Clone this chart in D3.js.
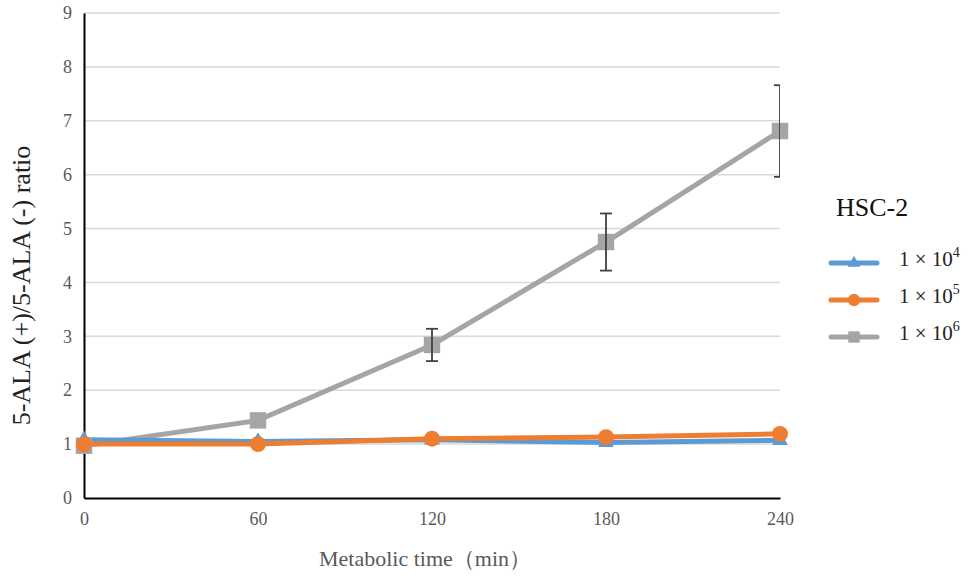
<!DOCTYPE html>
<html>
<head>
<meta charset="utf-8">
<script src="https://cdn.jsdelivr.net/npm/d3@7"></script>
<style>
  body { margin: 0; background: #fff; }
  svg text { font-family: "Liberation Serif", "Times New Roman", Times, "DejaVu Serif", serif !important; }
</style>
</head>
<body>
<div id="chart"></div>
<script>
const times = [0, 60, 120, 180, 240]
const yTicks = [0, 1, 2, 3, 4, 5, 6, 7, 8, 9]

const cells1e4 = [1.08, 1.05, 1.08, 1.03, 1.07]
const cells1e5 = [1.00, 1.00, 1.10, 1.13, 1.19]
const cells1e6 = [0.97, 1.44, 2.84, 4.75, 6.81]
const err1e6 = [0, 0, 0.30, 0.53, 0.85]

const seriesNames = ["4", "5", "6"]

const width = 971, height = 580
const margin = { top: 13, right: 191, bottom: 82, left: 84 }
const serif = "'Liberation Serif', 'Times New Roman', Times, 'DejaVu Serif', serif"

const svg = d3.select("#chart")
    .append("svg")
    .attr("width", width)
    .attr("height", height)
    .attr("font-family", serif)

const x = d3.scaleLinear()
    .domain([0, 240])
    .range([margin.left, width - margin.right])

const y = d3.scaleLinear()
    .domain([0, 9])
    .range([height - margin.bottom, margin.top])

svg.append("clipPath")
    .attr("id", "plotClip")
    .append("rect")
    .attr("x", margin.left - 20)
    .attr("y", 0)
    .attr("width", x(240) - margin.left + 20)
    .attr("height", height)

// grid lines
svg.append("g")
    .selectAll("line")
    .data(yTicks.filter(d => d > 0))
    .enter().append("line")
    .attr("x1", x(0))
    .attr("x2", x(240))
    .attr("y1", d => y(d))
    .attr("y2", d => y(d))
    .attr("stroke", "#d9d9d9")
    .attr("stroke-width", 1.5)

// axes
const yAxis = svg.append("g")
    .attr("transform", `translate(${x(0)},0)`)
    .call(d3.axisLeft(y).tickValues(yTicks).tickSize(0).tickPadding(12))
yAxis.select(".domain").attr("stroke", "#000").attr("stroke-width", 2)

const xAxis = svg.append("g")
    .attr("transform", `translate(0,${y(0)})`)
    .call(d3.axisBottom(x).tickValues(times).tickSize(0).tickPadding(14))
xAxis.select(".domain").attr("stroke", "#000").attr("stroke-width", 2)

yAxis.attr("font-family", serif)
xAxis.attr("font-family", serif)

svg.selectAll(".tick text")
    .attr("fill", "#595959")
    .attr("font-family", serif)
    .style("font-size", "18px")

// axis titles
svg.append("text")
    .attr("transform", `translate(30,${(y(0) + y(9)) / 2 + 30}) rotate(-90)`)
    .attr("text-anchor", "middle")
    .attr("fill", "#222")
    .attr("font-family", serif)
    .style("font-size", "26px")
    .text("5-ALA (+)/5-ALA (-) ratio")

svg.append("text")
    .attr("x", 425)
    .attr("y", 566)
    .attr("text-anchor", "middle")
    .attr("fill", "#595959")
    .attr("font-family", serif)
    .style("font-size", "22px")
    .text("Metabolic time（min）")

const line = d3.line()
    .x((d, i) => x(times[i]))
    .y(d => y(d))

const colors = ["#5b9bd5", "#ed7d31", "#a5a5a5"]
const data = [cells1e4, cells1e5, cells1e6]

// lines: gray first, then blue, orange on top
const order = [2, 0, 1]
const plot = svg.append("g")

order.forEach(k => {
    plot.append("path")
        .datum(data[k])
        .attr("fill", "none")
        .attr("stroke", colors[k])
        .attr("stroke-width", 5)
        .attr("d", line)
})

// error bars for 1e6
const eb = svg.append("g").attr("clip-path", "url(#plotClip)")
err1e6.forEach((e, i) => {
    if (e <= 0) return
    const cx = x(times[i])
    const top = y(cells1e6[i] + e), bot = y(cells1e6[i] - e)
    eb.append("line").attr("x1", cx).attr("x2", cx).attr("y1", top).attr("y2", bot)
        .attr("stroke", "#404040").attr("stroke-width", 1.8)
    ;[top, bot].forEach(v => {
        eb.append("line").attr("x1", cx - 6).attr("x2", cx + 6).attr("y1", v).attr("y2", v)
            .attr("stroke", "#404040").attr("stroke-width", 1.8)
    })
})

const triangle = d3.symbol().type(d3.symbolTriangle).size(110)
const circle = d3.symbol().type(d3.symbolCircle).size(200)
const square = d3.symbol().type(d3.symbolSquare).size(270)
const symbols = [triangle, circle, square]

order.forEach(k => {
    plot.append("g")
        .selectAll("path")
        .data(data[k])
        .enter().append("path")
        .attr("transform", (d, i) => `translate(${x(times[i])},${y(d)})`)
        .attr("d", symbols[k]())
        .attr("fill", colors[k])
})

// legend
const legendSymbols = [
    d3.symbol().type(d3.symbolTriangle).size(70),
    d3.symbol().type(d3.symbolCircle).size(120),
    d3.symbol().type(d3.symbolSquare).size(130)
]

const legend = svg.append("g")
    .attr("transform", "translate(829,0)")

legend.append("text")
    .attr("x", 7)
    .attr("y", 216)
    .attr("fill", "#111")
    .attr("font-family", serif)
    .style("font-size", "26px")
    .text("HSC-2")

seriesNames.forEach((s, i) => {
    const ly = 263 + i * 37
    legend.append("line")
        .attr("x1", 2).attr("x2", 48).attr("y1", ly).attr("y2", ly)
        .attr("stroke", colors[i]).attr("stroke-width", 5)
        .attr("stroke-linecap", "round")
    legend.append("path")
        .attr("transform", `translate(25,${ly})`)
        .attr("d", legendSymbols[i]())
        .attr("fill", colors[i])
    const t = legend.append("text")
        .attr("x", 70)
        .attr("y", ly + 3)
        .attr("fill", "#222")
        .attr("font-family", serif)
        .style("font-size", "21px")
    t.append("tspan").text("1 × 10")
    t.append("tspan").attr("dy", -9).style("font-size", "14px").text(s)
})
</script>
</body>
</html>
